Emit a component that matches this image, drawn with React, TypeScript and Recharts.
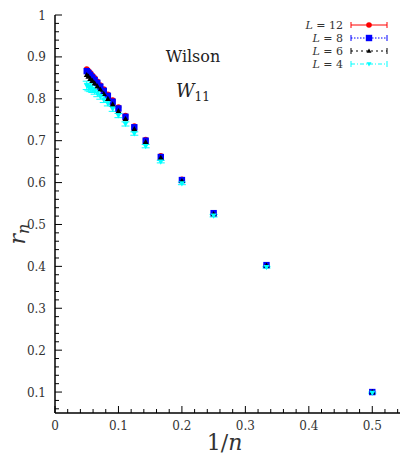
import React from "react";
import { ScatterChart, Scatter, XAxis, YAxis, ErrorBar, Legend } from "recharts";

// 1/n values (n = 2 .. 20)
const invN = [0.5, 0.3333, 0.25, 0.2, 0.1667, 0.1429, 0.125, 0.1111, 0.1, 0.0909, 0.0833, 0.0769, 0.0714, 0.0667, 0.0625, 0.0588, 0.0556, 0.0526, 0.05];

const rL12 = [0.100, 0.404, 0.528, 0.608, 0.664, 0.703, 0.735, 0.760, 0.780, 0.797, 0.811, 0.823, 0.833, 0.842, 0.850, 0.856, 0.862, 0.867, 0.871];
const rL8 = [0.100, 0.403, 0.527, 0.606, 0.661, 0.700, 0.732, 0.757, 0.777, 0.793, 0.807, 0.819, 0.829, 0.838, 0.845, 0.851, 0.857, 0.862, 0.866];
const rL6 = [0.100, 0.402, 0.525, 0.604, 0.659, 0.697, 0.728, 0.752, 0.771, 0.787, 0.800, 0.812, 0.822, 0.830, 0.837, 0.843, 0.848, 0.853, 0.857];
const rL4 = [0.098, 0.398, 0.521, 0.598, 0.650, 0.687, 0.717, 0.740, 0.760, 0.776, 0.789, 0.798, 0.806, 0.813, 0.819, 0.823, 0.826, 0.828, 0.832];
const errL4 = [0.002, 0.002, 0.003, 0.003, 0.003, 0.004, 0.004, 0.005, 0.005, 0.006, 0.006, 0.007, 0.007, 0.008, 0.008, 0.008, 0.009, 0.009, 0.010];

const seriesNames = ["12", "8", "6", "4"];
const seriesColors = ["#ff0000", "#0000ff", "#000000", "#00ffff"];

const xMajor = [0, 0.1, 0.2, 0.3, 0.4, 0.5];
const xMinor = [0.02, 0.04, 0.06, 0.08, 0.12, 0.14, 0.16, 0.18, 0.22, 0.24, 0.26, 0.28, 0.32, 0.34, 0.36, 0.38, 0.42, 0.44, 0.46, 0.48, 0.52, 0.54];
const yMajor = [0.1, 0.2, 0.3, 0.4, 0.5, 0.6, 0.7, 0.8, 0.9, 1];
const yMinor = [0.06, 0.08, 0.12, 0.14, 0.16, 0.18, 0.22, 0.24, 0.26, 0.28, 0.32, 0.34, 0.36, 0.38, 0.42, 0.44, 0.46, 0.48, 0.52, 0.54, 0.56, 0.58, 0.62, 0.64, 0.66, 0.68, 0.72, 0.74, 0.76, 0.78, 0.82, 0.84, 0.86, 0.88, 0.92, 0.94, 0.96, 0.98];

const FONT = "'DejaVu Serif', serif";

const mk = (vals: number[], errs?: number[]) =>
  invN.map((x, i) => ({ x, y: vals[i], e: errs ? errs[i] : 0 }));

const isMajor = (list: number[], v: number) => list.some((m) => Math.abs(m - v) < 1e-9);
const fmt = (v: number) => (Math.abs(v) < 1e-9 ? "0" : Math.abs(v - 1) < 1e-9 ? "1" : String(Math.round(v * 10) / 10));

const txt = { fontFamily: FONT } as React.CSSProperties;

const XTickBottom = (props: any) => {
  const { x, y, payload } = props;
  const major = isMajor(xMajor, payload.value);
  const len = major ? 7 : 4;
  return (
    <g>
      <line x1={x} x2={x} y1={y} y2={y - len} stroke="#000" strokeWidth={1} />
      {major && (
        <text x={x} y={y + 17} textAnchor="middle" style={txt} fontSize={12} fill="#333">
          {fmt(payload.value)}
        </text>
      )}
    </g>
  );
};

const XTickTop = (props: any) => {
  const { x, y, payload } = props;
  const major = isMajor(xMajor, payload.value);
  const len = major ? 7 : 4;
  return <line x1={x} x2={x} y1={y} y2={y + len} stroke="#000" strokeWidth={1} />;
};

const YTickLeft = (props: any) => {
  const { x, y, payload } = props;
  const major = isMajor(yMajor, payload.value);
  const len = major ? 7 : 4;
  return (
    <g>
      <line x1={x} x2={x + len} y1={y} y2={y} stroke="#000" strokeWidth={1} />
      {major && (
        <text x={x - 9} y={y + 4.5} textAnchor="end" style={txt} fontSize={12} fill="#333">
          {fmt(payload.value)}
        </text>
      )}
    </g>
  );
};

const YTickRight = (props: any) => {
  const { x, y, payload } = props;
  const major = isMajor(yMajor, payload.value);
  const len = major ? 7 : 4;
  return <line x1={x} x2={x - len} y1={y} y2={y} stroke="#000" strokeWidth={1} />;
};

const Circle = (p: any) => <circle cx={p.cx} cy={p.cy} r={2.8} fill="#ff0000" />;
const Square = (p: any) => <rect x={p.cx - 3.2} y={p.cy - 3.2} width={6.4} height={6.4} fill="#0000ff" />;
const TriUp = (p: any) => (
  <polygon points={`${p.cx},${p.cy - 3} ${p.cx - 3},${p.cy + 2.2} ${p.cx + 3},${p.cy + 2.2}`} fill="#000000" />
);
const TriDown = (p: any) => (
  <polygon points={`${p.cx},${p.cy + 3} ${p.cx - 3},${p.cy - 2.2} ${p.cx + 3},${p.cy - 2.2}`} fill="#00ffff" />
);

const LegendContent = () => {
  const rows = [
    { dash: undefined, marker: "circle" },
    { dash: "1.5 1.5", marker: "square" },
    { dash: "2 3", marker: "up" },
    { dash: "4 2 1 2", marker: "down" },
  ];
  return (
    <svg width={130} height={60} style={{ display: "block" }}>
      {rows.map((r, i) => {
        const y = 10 + i * 13;
        const c = seriesColors[i];
        const x1 = 80;
        const x2 = 116;
        const mx = 98;
        return (
          <g key={i}>
            <text x={72} y={y + 4} textAnchor="end" style={txt} fontSize={11} fill="#333">
              <tspan fontStyle="italic">L</tspan>
              <tspan> = {seriesNames[i]}</tspan>
            </text>
            <line x1={x1} x2={x2} y1={y} y2={y} stroke={c} strokeWidth={1} strokeDasharray={r.dash} />
            <line x1={x1} x2={x1} y1={y - 3} y2={y + 3} stroke={c} strokeWidth={1} />
            <line x1={x2} x2={x2} y1={y - 3} y2={y + 3} stroke={c} strokeWidth={1} />
            {r.marker === "circle" && <Circle cx={mx} cy={y} />}
            {r.marker === "square" && <Square cx={mx} cy={y} />}
            {r.marker === "up" && (
              <polygon points={`${mx},${y - 2.5} ${mx - 2.5},${y + 1.8} ${mx + 2.5},${y + 1.8}`} fill="#000" />
            )}
            {r.marker === "down" && (
              <polygon points={`${mx},${y + 2.5} ${mx - 2.5},${y - 1.8} ${mx + 2.5},${y - 1.8}`} fill="#00ffff" />
            )}
          </g>
        );
      })}
    </svg>
  );
};

const XLabel = (props: any) => {
  const vb = props.viewBox || { x: 0, y: 0, width: 0, height: 0 };
  const cx = vb.x + vb.width / 2 - 5;
  return (
    <text x={cx} y={450} textAnchor="middle" style={txt} fontSize={22} fill="#333">
      <tspan>1/</tspan>
      <tspan fontStyle="italic">n</tspan>
    </text>
  );
};

const YLabel = () => (
  <text x={0} y={0} transform="translate(25,234) rotate(-90)" textAnchor="middle" style={txt} fontSize={22} fill="#333">
    <tspan fontStyle="italic">r</tspan>
    <tspan fontStyle="italic" fontSize={16} dy={4}>n</tspan>
  </text>
);

export default function App() {
  const d12 = mk(rL12);
  const d8 = mk(rL8);
  const d6 = mk(rL6);
  const d4 = mk(rL4, errL4);
  return (
    <div style={{ position: "absolute", left: 0, top: 0, width: 400, height: 456, overflow: "hidden", background: "#fff" }}>
      <ScatterChart width={410} height={456} margin={{ top: 15, right: 6, bottom: 0, left: 0 }}>
        <XAxis
          type="number"
          dataKey="x"
          domain={[0, 0.55]}
          ticks={[...xMajor, ...xMinor]}
          interval={0}
          tickSize={0}
          tickMargin={0}
          tick={<XTickBottom />}
          height={43}
          axisLine={{ stroke: "#000", strokeWidth: 1.5 }}
          allowDataOverflow
          label={<XLabel />}
        />
        <XAxis
          xAxisId="top"
          orientation="top"
          type="number"
          dataKey="x"
          domain={[0, 0.55]}
          ticks={[...xMajor, ...xMinor]}
          interval={0}
          tickSize={0}
          tickMargin={0}
          tick={<XTickTop />}
          height={0}
          axisLine={{ stroke: "#000", strokeWidth: 1.5 }}
          allowDataOverflow
        />
        <YAxis
          type="number"
          dataKey="y"
          domain={[0.05, 1]}
          ticks={[...yMajor, ...yMinor]}
          interval={0}
          tickSize={0}
          tickMargin={0}
          tick={<YTickLeft />}
          width={55}
          axisLine={{ stroke: "#000", strokeWidth: 1.5 }}
          allowDataOverflow
          label={<YLabel />}
        />
        <YAxis
          yAxisId="right"
          orientation="right"
          type="number"
          dataKey="y"
          domain={[0.05, 1]}
          ticks={[...yMajor, ...yMinor]}
          interval={0}
          tickSize={0}
          tickMargin={0}
          tick={<YTickRight />}
          width={0}
          axisLine={{ stroke: "#000", strokeWidth: 1.5 }}
          allowDataOverflow
        />
        <Legend
          layout="vertical"
          verticalAlign="middle"
          align="center"
          content={<LegendContent />}
          wrapperStyle={{ position: "absolute", left: 271, top: 15, width: 130, height: 60 }}
        />
        <Scatter name="L = 12" data={d12} fill="#ff0000" shape={<Circle />} isAnimationActive={false} />
        <Scatter name="L = 8" data={d8} fill="#0000ff" shape={<Square />} isAnimationActive={false} />
        <Scatter name="L = 6" data={d6} fill="#000000" shape={<TriUp />} isAnimationActive={false} />
        <Scatter name="L = 4" data={d4} fill="#00ffff" shape={<TriDown />} isAnimationActive={false}>
          <ErrorBar dataKey="e" direction="y" stroke="#00ffff" width={4} strokeWidth={1} />
        </Scatter>
      </ScatterChart>
      <svg width={400} height={456} style={{ position: "absolute", left: 0, top: 0, pointerEvents: "none" }}>
        <text x={193} y={62} textAnchor="middle" style={txt} fontSize={16} fill="#222">
          Wilson
        </text>
        <text x={193} y={97} textAnchor="middle" style={txt} fontSize={18} fill="#222">
          <tspan fontStyle="italic">W</tspan>
          <tspan fontSize={12} dy={4}>11</tspan>
        </text>
      </svg>
    </div>
  );
}
